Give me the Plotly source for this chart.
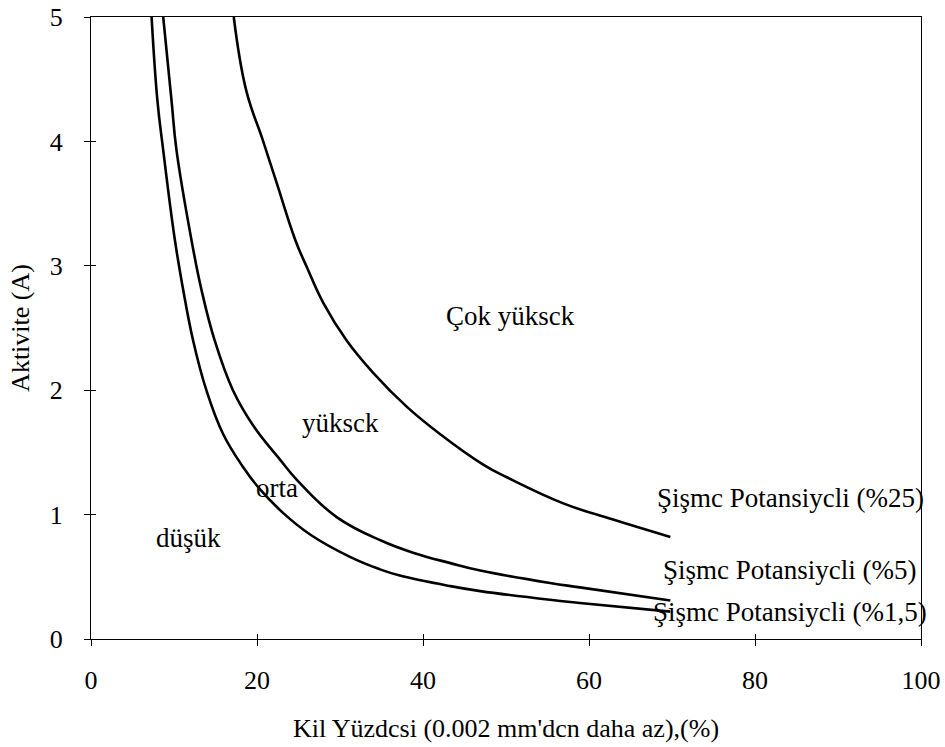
import plotly.graph_objects as go

# --- okunan değerler (Kil yüzdesi, Aktivite) ---
kil_15 = [7.3, 8.0, 8.7, 10.1, 11.1, 12.3, 13.9, 15.9, 18.3, 20.4, 23.2, 26.4, 31.2, 34.8, 37.2, 43.3, 46.9, 55.3, 58.9, 69.8]
akt_15 = [5.0, 4.33, 3.93, 3.21, 2.81, 2.40, 2.0, 1.65, 1.385, 1.20, 1.01, 0.84, 0.66, 0.56, 0.51, 0.425, 0.385, 0.315, 0.29, 0.22]

kil_5 = [8.7, 9.7, 10.3, 12.1, 13.3, 14.9, 17.1, 19.6, 22.8, 24.8, 29.6, 35.0, 39.0, 43.3, 46.9, 55.3, 58.9, 69.8]
akt_5 = [5.0, 4.33, 3.93, 3.21, 2.81, 2.40, 2.0, 1.71, 1.44, 1.28, 0.98, 0.79, 0.69, 0.61, 0.55, 0.45, 0.415, 0.31]

kil_25 = [17.2, 18.7, 20.7, 22.4, 24.6, 26.0, 28.0, 30.8, 34.0, 38.0, 42.0, 47.3, 50.1, 56.9, 62.9, 69.8]
akt_25 = [5.0, 4.41, 4.01, 3.66, 3.21, 2.99, 2.70, 2.40, 2.14, 1.87, 1.65, 1.40, 1.30, 1.09, 0.96, 0.82]

# bölge etiketleri
bolge_metin = ["Çok yüksck", "yüksck", "orta", "düşük",
               "Şişmc Potansiycli (%25)", "Şişmc Potansiycli (%5)", "Şişmc Potansiycli (%1,5)"]
bolge_x = [50.5, 30.0, 22.4, 11.7, 84.3, 84.1, 84.2]
bolge_y = [2.60, 1.74, 1.21, 0.81, 1.13, 0.555, 0.22]

x_ticks = [0, 20, 40, 60, 80, 100]
y_ticks = [0, 1, 2, 3, 4, 5]

FONT = "Liberation Serif, Times New Roman, serif"

fig = go.Figure()

for xs, ys, ad in [(kil_15, akt_15, "%1,5"), (kil_5, akt_5, "%5"), (kil_25, akt_25, "%25")]:
    fig.add_trace(go.Scatter(x=xs, y=ys, mode="lines", name=ad,
                             line=dict(color="black", width=2.6, shape="spline", smoothing=1.2)))

# içe doğru çentikler için boş bir iz (x2/y2 eksenleri)
fig.add_trace(go.Scatter(x=[None], y=[None], xaxis="x2", yaxis="y2", showlegend=False, hoverinfo="skip"))

for t, x, y in zip(bolge_metin, bolge_x, bolge_y):
    fig.add_annotation(x=x, y=y, text=t, showarrow=False, xanchor="center", yanchor="middle",
                       font=dict(family=FONT, size=27, color="black"))

# ortak eksen ayarları
ortak = dict(showgrid=False, zeroline=False, automargin=False, tickcolor="black", tickwidth=1)

fig.update_layout(
    width=945, height=747,
    margin=dict(l=91, r=24, t=17, b=108),
    paper_bgcolor="white", plot_bgcolor="white",
    showlegend=False,
    font=dict(family=FONT, size=26, color="black"),
    xaxis=dict(range=[0, 100], tickvals=x_ticks, ticks="outside", ticklen=6,
               showline=True, linecolor="black", linewidth=1.2, mirror=True,
               ticklabelstandoff=12,
               title=dict(text="Kil Yüzdcsi (0.002 mm'dcn daha az),(%)", standoff=24,
                          font=dict(family=FONT, size=26)),
               **ortak),
    yaxis=dict(range=[0, 5], tickvals=y_ticks, ticks="outside", ticklen=6,
               showline=True, linecolor="black", linewidth=1.2, mirror=True,
               ticklabelstandoff=16,
               title=dict(text="Aktivite (A)", standoff=12, font=dict(family=FONT, size=26)),
               **ortak),
    xaxis2=dict(overlaying="x", anchor="y2", range=[0, 100], tickvals=x_ticks, ticks="inside",
                ticklen=5, showticklabels=False, showline=False, **ortak),
    yaxis2=dict(overlaying="y", anchor="x2", range=[0, 5], tickvals=y_ticks, ticks="inside",
                ticklen=5, showticklabels=False, showline=False, **ortak),
)

# sayfa kenar boşluğunu sıfırla (grafik pencereye tam otursun), araç çubuğu yok
fig.write_html("out.html", config={"displayModeBar": False},
               post_script="document.body.style.margin='0';")
